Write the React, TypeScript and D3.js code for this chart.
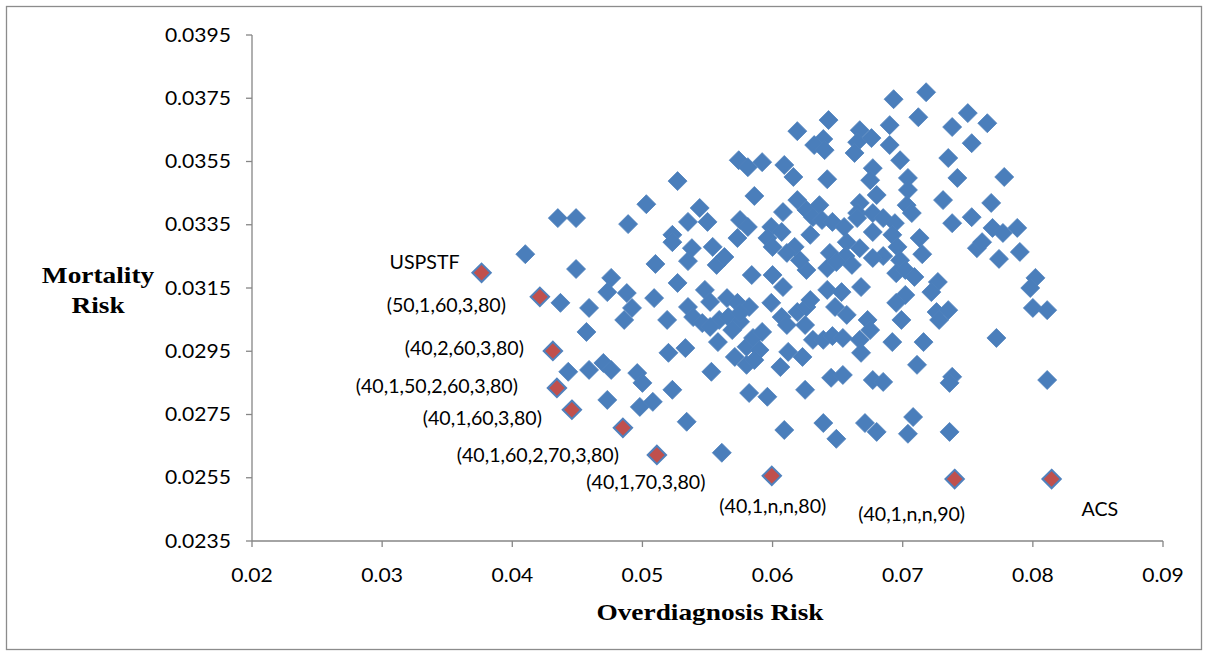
import React from "react";
import * as d3 from "d3";

// Overdiagnosis risk (x) vs mortality risk (y) for every screening strategy
const bluePoints: [number, number][] = [
  [0.0410, 0.03257], [0.0435, 0.03371], [0.0449, 0.03371], [0.0449, 0.03210], [0.0437, 0.03103],
  [0.0459, 0.03087], [0.0457, 0.03011], [0.0443, 0.02885], [0.0459, 0.02891], [0.0470, 0.02913],
  [0.0476, 0.02891], [0.0496, 0.02881], [0.0500, 0.02850], [0.0473, 0.02796], [0.0498, 0.02774],
  [0.0508, 0.02790], [0.0476, 0.03182], [0.0473, 0.03137], [0.0488, 0.03134], [0.0492, 0.03087],
  [0.0486, 0.03049], [0.0489, 0.03352], [0.0503, 0.03415], [0.0510, 0.03226], [0.0509, 0.03118],
  [0.0535, 0.03235], [0.0557, 0.03223], [0.0563, 0.03248], [0.0527, 0.03166], [0.0548, 0.03144],
  [0.0552, 0.03106], [0.0565, 0.03118], [0.0573, 0.03103], [0.0584, 0.03191], [0.0600, 0.03191],
  [0.0608, 0.03153], [0.0599, 0.03103], [0.0582, 0.03090], [0.0519, 0.03049], [0.0535, 0.03090],
  [0.0539, 0.03058], [0.0546, 0.03039], [0.0559, 0.03049], [0.0566, 0.03058], [0.0575, 0.03043],
  [0.0575, 0.03071], [0.0569, 0.03017], [0.0552, 0.03027], [0.0558, 0.02979], [0.0520, 0.02945],
  [0.0533, 0.02960], [0.0553, 0.02885], [0.0571, 0.02932], [0.0580, 0.02964], [0.0585, 0.02992],
  [0.0592, 0.03011], [0.0590, 0.02954], [0.0580, 0.02907], [0.0586, 0.02922], [0.0606, 0.02900],
  [0.0612, 0.02948], [0.0623, 0.02932], [0.0607, 0.03058], [0.0611, 0.03033], [0.0619, 0.03074],
  [0.0626, 0.03090], [0.0629, 0.03112], [0.0625, 0.03033], [0.0631, 0.02986], [0.0639, 0.02986],
  [0.0646, 0.02998], [0.0642, 0.03144], [0.0642, 0.03213], [0.0626, 0.03207], [0.0621, 0.03238],
  [0.0645, 0.02866], [0.0625, 0.02828], [0.0582, 0.02818], [0.0596, 0.02806], [0.0523, 0.02828],
  [0.0534, 0.02727], [0.0609, 0.02701], [0.0639, 0.02723], [0.0649, 0.02673], [0.0561, 0.02629],
  [0.0643, 0.03681], [0.0619, 0.03646], [0.0639, 0.03621], [0.0632, 0.03602], [0.0640, 0.03586],
  [0.0574, 0.03554], [0.0581, 0.03532], [0.0592, 0.03548], [0.0609, 0.03539], [0.0616, 0.03501],
  [0.0642, 0.03494], [0.0527, 0.03488], [0.0586, 0.03441], [0.0544, 0.03403], [0.0535, 0.03359],
  [0.0550, 0.03359], [0.0575, 0.03365], [0.0581, 0.03343], [0.0573, 0.03308], [0.0523, 0.03318],
  [0.0523, 0.03295], [0.0538, 0.03276], [0.0554, 0.03280], [0.0608, 0.03390], [0.0619, 0.03428],
  [0.0626, 0.03397], [0.0636, 0.03412], [0.0631, 0.03374], [0.0638, 0.03365], [0.0646, 0.03359],
  [0.0599, 0.03343], [0.0607, 0.03327], [0.0596, 0.03308], [0.0629, 0.03318], [0.0617, 0.03280],
  [0.0600, 0.03280], [0.0611, 0.03261], [0.0644, 0.03261], [0.0657, 0.03295], [0.0718, 0.03769],
  [0.0693, 0.03747], [0.0750, 0.03703], [0.0712, 0.03690], [0.0738, 0.03659], [0.0765, 0.03671],
  [0.0690, 0.03665], [0.0667, 0.03649], [0.0676, 0.03624], [0.0665, 0.03611], [0.0690, 0.03602],
  [0.0663, 0.03577], [0.0753, 0.03608], [0.0698, 0.03554], [0.0735, 0.03561], [0.0677, 0.03529],
  [0.0704, 0.03498], [0.0675, 0.03491], [0.0742, 0.03498], [0.0778, 0.03501], [0.0680, 0.03444],
  [0.0704, 0.03460], [0.0667, 0.03419], [0.0665, 0.03387], [0.0703, 0.03412], [0.0707, 0.03387],
  [0.0731, 0.03428], [0.0768, 0.03419], [0.0677, 0.03387], [0.0738, 0.03355], [0.0753, 0.03374],
  [0.0769, 0.03340], [0.0777, 0.03324], [0.0788, 0.03340], [0.0757, 0.03276], [0.0761, 0.03295],
  [0.0790, 0.03264], [0.0774, 0.03242], [0.0655, 0.03343], [0.0665, 0.03371], [0.0685, 0.03371],
  [0.0694, 0.03355], [0.0677, 0.03327], [0.0692, 0.03318], [0.0667, 0.03276], [0.0685, 0.03251],
  [0.0696, 0.03280], [0.0713, 0.03308], [0.0715, 0.03257], [0.0677, 0.03245], [0.0656, 0.03251],
  [0.0698, 0.03238], [0.0661, 0.03223], [0.0649, 0.03232], [0.0695, 0.03197], [0.0702, 0.03207],
  [0.0709, 0.03185], [0.0802, 0.03182], [0.0798, 0.03150], [0.0668, 0.03153], [0.0727, 0.03169],
  [0.0722, 0.03137], [0.0653, 0.03137], [0.0702, 0.03128], [0.0695, 0.03103], [0.0726, 0.03074],
  [0.0735, 0.03080], [0.0728, 0.03049], [0.0648, 0.03090], [0.0657, 0.03065], [0.0673, 0.03049],
  [0.0675, 0.03017], [0.0699, 0.03049], [0.0800, 0.03087], [0.0811, 0.03080], [0.0654, 0.02992],
  [0.0667, 0.02986], [0.0668, 0.02945], [0.0692, 0.02979], [0.0716, 0.02979], [0.0772, 0.02992],
  [0.0711, 0.02907], [0.0654, 0.02875], [0.0677, 0.02859], [0.0685, 0.02853], [0.0738, 0.02869],
  [0.0736, 0.02850], [0.0811, 0.02859], [0.0671, 0.02723], [0.0680, 0.02695], [0.0708, 0.02742],
  [0.0704, 0.02689], [0.0736, 0.02695],
];

// Named (highlighted) strategies
const redNames = [
  "USPSTF", "(50,1,60,3,80)", "(40,2,60,3,80)", "(40,1,50,2,60,3,80)", "(40,1,60,3,80)",
  "(40,1,60,2,70,3,80)", "(40,1,70,3,80)", "(40,1,n,n,80)", "(40,1,n,n,90)", "ACS",
];
const redOverdiagnosis = [0.03764, 0.04212, 0.04312, 0.04343, 0.04458, 0.0485, 0.05111, 0.05994, 0.07399, 0.08144];
const redMortality = [0.03198, 0.03122, 0.02951, 0.02834, 0.02765, 0.02708, 0.02622, 0.02556, 0.02546, 0.02546];

// label placement (pixel offsets from the marker) and anchor
const labelDx = [-22, -34, -29, -39, -30, -4, -11, 1, -43, 30];
const labelDy = [-4, 15, 4, 5, 15, 34, 34, 37, 42, 37];
const labelAnchor = ["end", "end", "end", "end", "end", "end", "middle", "middle", "middle", "start"];

const xTicks = [0.02, 0.03, 0.04, 0.05, 0.06, 0.07, 0.08, 0.09];
const yTicks = [0.0235, 0.0255, 0.0275, 0.0295, 0.0315, 0.0335, 0.0355, 0.0375, 0.0395];

const W = 1209;
const H = 656;
const SX = 1.14; // horizontal stretch of tick / title text
const SXL = 1.06; // horizontal stretch of point labels

export default function App() {
  const x = d3.scaleLinear().domain([0.02, 0.09]).range([252, 1163]);
  const y = d3.scaleLinear().domain([0.0235, 0.0395]).range([541, 35]);
  const diamond = (r: number) => `M0,${-r}L${r},0L0,${r}L${-r},0Z`;
  const axisColor = "#868686";
  const sans = "Lato, 'Open Sans', sans-serif";
  const serif = "'Liberation Serif', 'Times New Roman', serif";

  return (
    <svg
      width={W}
      height={H}
      style={{ position: "absolute", left: 0, top: 0, background: "#fff" }}
    >
      <rect x={6.5} y={6.5} width={1195} height={643} fill="#fff" stroke="#8c8c8c" strokeWidth={1.3} />

      {/* axes */}
      <line x1={x(0.02)} x2={x(0.02)} y1={y(0.0395)} y2={y(0.0235)} stroke={axisColor} strokeWidth={1.3} />
      <line x1={x(0.02)} x2={x(0.09)} y1={y(0.0235)} y2={y(0.0235)} stroke={axisColor} strokeWidth={1.3} />
      {yTicks.map((t) => (
        <g key={"y" + t}>
          <line x1={x(0.02) - 6} x2={x(0.02)} y1={y(t)} y2={y(t)} stroke={axisColor} strokeWidth={1.3} />
          <text
            transform={`translate(231,${y(t) + 6.5}) scale(${SX},1)`}
            textAnchor="end"
            fontFamily={sans}
            fontSize={18.5}
            fill="#000"
          >
            {d3.format(".4f")(t)}
          </text>
        </g>
      ))}
      {xTicks.map((t) => (
        <g key={"x" + t}>
          <line x1={x(t)} x2={x(t)} y1={y(0.0235)} y2={y(0.0235) + 6} stroke={axisColor} strokeWidth={1.3} />
          <text
            transform={`translate(${x(t)},582) scale(${SX},1)`}
            textAnchor="middle"
            fontFamily={sans}
            fontSize={18.5}
            fill="#000"
          >
            {d3.format(".2f")(t)}
          </text>
        </g>
      ))}

      {/* axis titles */}
      <text
        transform={`translate(710,620) scale(${SX},1)`}
        textAnchor="middle"
        fontFamily={serif}
        fontWeight="bold"
        fontSize={24}
      >
        Overdiagnosis Risk
      </text>
      <text
        transform={`translate(98,283) scale(${SX},1)`}
        textAnchor="middle"
        fontFamily={serif}
        fontWeight="bold"
        fontSize={24}
      >
        Mortality
      </text>
      <text
        transform={`translate(98,313) scale(${SX},1)`}
        textAnchor="middle"
        fontFamily={serif}
        fontWeight="bold"
        fontSize={24}
      >
        Risk
      </text>

      {/* all strategies */}
      {bluePoints.map(([vx, vy], i) => (
        <path
          key={"b" + i}
          d={diamond(9.5)}
          transform={`translate(${x(vx)},${y(vy)})`}
          fill="#4A7EBB"
          stroke="#4F81BD"
          strokeWidth={0.8}
        />
      ))}

      {/* highlighted strategies */}
      {redNames.map((name, i) => {
        const px = x(redOverdiagnosis[i]);
        const py = y(redMortality[i]);
        return (
          <g key={"r" + i}>
            <path d={diamond(9.2)} transform={`translate(${px},${py})`} fill="#C0504D" stroke="#4F81BD" strokeWidth={2} />
            <text
              transform={`translate(${px + labelDx[i]},${py + labelDy[i]}) scale(${SXL},1)`}
              textAnchor={labelAnchor[i]}
              fontFamily={sans}
              fontSize={18.5}
              fill="#000"
            >
              {name}
            </text>
          </g>
        );
      })}
    </svg>
  );
}
